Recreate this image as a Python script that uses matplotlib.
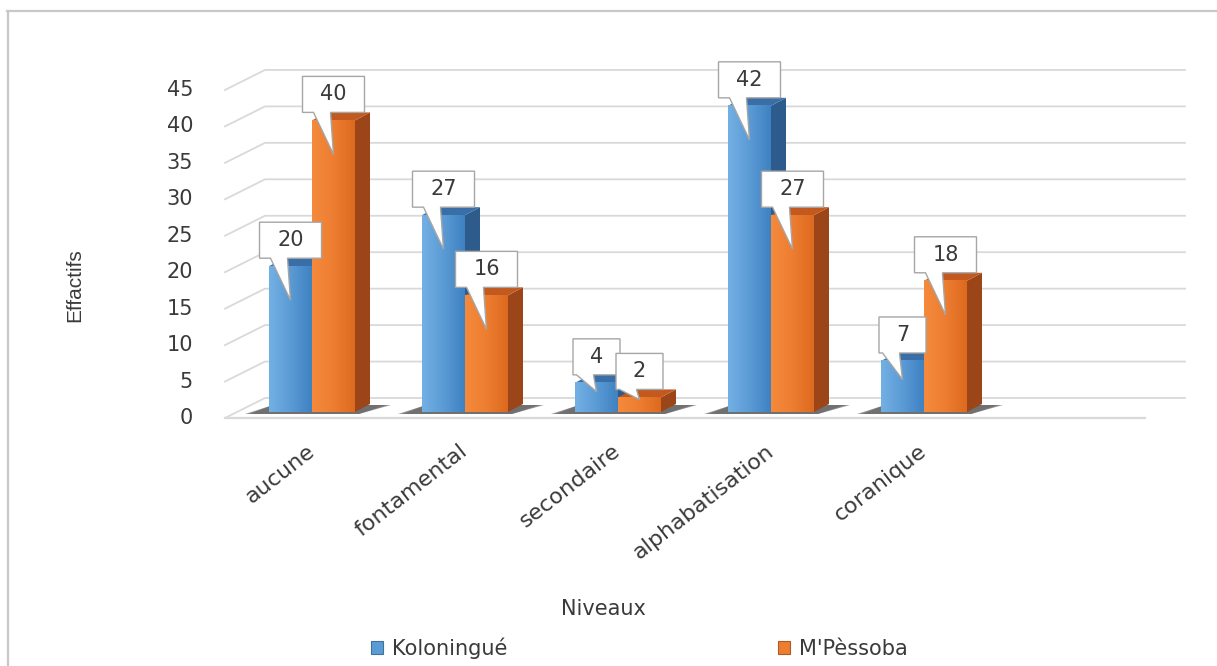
import numpy as np
import matplotlib.pyplot as plt
from matplotlib.patches import Polygon, Rectangle
from matplotlib.lines import Line2D
from matplotlib.colors import LinearSegmentedColormap

# data: effectifs by level of education, for the two villages
niveaux = ['aucune', 'fontamental', 'secondaire', 'alphabatisation', 'coranique']
koloningue = [20, 27, 4, 42, 7]
mpessoba = [40, 16, 2, 27, 18]
series_names = ['Koloningué', "M'Pèssoba"]
yticks = list(range(0, 50, 5))

W, H = 1217, 666
fig = plt.figure(figsize=(W / 100, H / 100), dpi=100)
ax = fig.add_axes([0, 0, 1, 1])

# pixel <-> data scale (153 px per category, 7.29 px per unit of effectif)
X0, XS = 312, 153.0
Y0, YS = 418, 7.29
ax.set_xlim(-X0 / XS, (W - X0) / XS)
ax.set_ylim(-(H - Y0) / YS, Y0 / YS)
ax.axis('off')

txt_col = '#3a3a3a'


def dx(p):
    return p / XS


def dy(p):
    return p / YS


# back wall / floor geometry for the fake 3D look
wall_dx, wall_dy = dx(40), dy(20)
floor_l, floor_r = dx(225 - X0), dx(1145 - X0)
grid_col = '#d9d9d9'

for v in yticks:
    ax.plot([floor_l, floor_l + wall_dx, floor_r + wall_dx],
            [v, v + wall_dy, v + wall_dy], color=grid_col, lw=1.3, zorder=1)
    ax.text(floor_l - dx(32), v, str(v), ha='right', va='center',
            fontsize=15, color=txt_col)
ax.plot([floor_l, floor_r], [0, 0], color=grid_col, lw=1.6, zorder=1)

# bar geometry
bar_w = dx(43)
base = dy(6)
depth_x, depth_y = dx(15), dy(8)

blue = dict(front=['#72b0e4', '#5b9bd5', '#3f82c2'], side='#2c5b8c', top='#3a6ea6')
orange = dict(front=['#f58a3c', '#ed7d31', '#dd6a1f'], side='#9c4519', top='#c25a1f')

zo = [2]


def next_z():
    zo[0] += 1
    return zo[0]


def floor_shadow(xl, xr):
    for k, a in enumerate([0.2, 0.3, 0.5]):
        g = 8 - 3 * k
        pts = [(xl - dx(26 - g), base - dy(2)), (xr + dx(4), base - dy(2)),
               (xr + dx(38 - g), base + dy(7)), (xl + dx(4), base + dy(7))]
        ax.add_patch(Polygon(pts, closed=True, fc='#3a3a3a', ec='none',
                             alpha=a, zorder=2))


def bar3d(xl, v, style):
    y0, y1 = base, base + v
    z = next_z()
    side = [(xl + bar_w, y0), (xl + bar_w + depth_x, y0 + depth_y),
            (xl + bar_w + depth_x, y1 + depth_y), (xl + bar_w, y1)]
    ax.add_patch(Polygon(side, closed=True, fc=style['side'], ec='none', zorder=z))
    top = [(xl, y1), (xl + bar_w, y1), (xl + bar_w + depth_x, y1 + depth_y),
           (xl + depth_x, y1 + depth_y)]
    ax.add_patch(Polygon(top, closed=True, fc=style['top'], ec='none', zorder=z))
    cmap = LinearSegmentedColormap.from_list('f', style['front'])
    ax.imshow(np.linspace(0, 1, 64)[None, :], extent=(xl, xl + bar_w, y0, y1),
              aspect='auto', cmap=cmap, interpolation='bilinear', zorder=z + 0.5)


def callout(xc, v, txt):
    bw = dx(62 if len(txt) > 1 else 47)
    bh = dy(36)
    x0 = xc - bw / 2
    yb = base + v + depth_y
    yt = yb + bh
    tail = min(42, 0.45 * (v * YS + 8))
    pts = [(x0, yb), (max(x0 + dx(2), xc - dx(20)), yb), (xc, yb - dy(tail)),
           (xc - dx(3), yb), (x0 + bw, yb), (x0 + bw, yt), (x0, yt)]
    ax.add_patch(Polygon(pts, closed=True, fc='white', ec='#a6a6a6', lw=1,
                         zorder=50))
    ax.text(xc, (yb + yt) / 2, txt, ha='center', va='center', fontsize=15,
            color=txt_col, zorder=51)


xs = np.arange(len(niveaux))
for i in xs:
    floor_shadow(i - bar_w, i + bar_w)
for i in xs:
    bar3d(i - bar_w, koloningue[i], blue)
    bar3d(i, mpessoba[i], orange)
for i in xs:
    callout(i - bar_w / 2, koloningue[i], str(koloningue[i]))
    callout(i + bar_w / 2, mpessoba[i], str(mpessoba[i]))

# category labels
for i, name in zip(xs, niveaux):
    ax.text(i - dx(6), -dy(23), name, ha='right', va='top', rotation=38,
            rotation_mode='anchor', fontsize=16, color=txt_col)

ax.set_xlim(-X0 / XS, (W - X0) / XS)
ax.set_ylim(-(H - Y0) / YS, Y0 / YS)

fig.text(75 / W, 1 - 285 / H, 'Effactifs', rotation=90, ha='center', va='center',
         fontsize=15, color=txt_col,
         family=['Liberation Sans Narrow', 'Liberation Sans', 'DejaVu Sans'])
fig.text(603 / W, 1 - 609 / H, 'Niveaux', ha='center', va='center',
         fontsize=15, color=txt_col)

handles = [Rectangle((0, 0), 1, 1, fc='#5b9bd5', ec='#41719c', lw=0.8),
           Rectangle((0, 0), 1, 1, fc='#ed7d31', ec='#ae5a21', lw=0.8)]
fig.legend(handles, series_names, loc='center', bbox_to_anchor=(639 / W, 1 - 648 / H),
           ncol=2, frameon=False, fontsize=15, columnspacing=13.0,
           handlelength=0.6, handleheight=0.6, handletextpad=0.4,
           labelcolor=txt_col)

# chart frame
fig.add_artist(Line2D([7 / W, 1], [1 - 11 / H, 1 - 11 / H], color='#c8c8c8', lw=1.6))
fig.add_artist(Line2D([8 / W, 8 / W], [1 - 11 / H, 0], color='#c8c8c8', lw=1.6))

fig.savefig('out.png', dpi=100)
